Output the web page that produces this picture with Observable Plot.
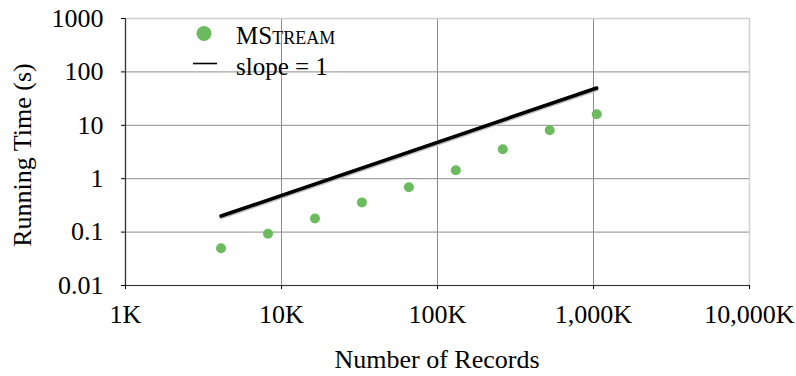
<!DOCTYPE html>
<html>
<head>
<meta charset="utf-8">
<script src="https://cdn.jsdelivr.net/npm/d3@7"></script>
<script src="https://cdn.jsdelivr.net/npm/@observablehq/plot@0.6"></script>
<style>
  html, body { margin: 0; padding: 0; background: #fff; }
  #wrap, #wrap svg, #wrap svg text, .leg, .ttl {
    font-family: 'Liberation Serif', 'Times New Roman', Times, Tinos, 'DejaVu Serif', 'Noto Serif', serif !important;
  }
  #wrap { position: relative; width: 796px; height: 376px; }
  .leg { position: absolute; font-size: 25px; color: #000; line-height: 1; white-space: nowrap; }
  .ttl { position: absolute; font-size: 26px; color: #000; line-height: 1; white-space: nowrap; }
</style>
</head>
<body>
<div id="wrap"></div>
<script>
const records = [4096, 8192, 16384, 32768, 65536, 131072, 262144, 524288, 1048576];
const runningTime = [0.05, 0.093, 0.18, 0.36, 0.69, 1.44, 3.56, 8.1, 16.1];
const slopeX = [4096, 1048576];
const slopeY = [0.2, 50];
const xTicks = [1000, 10000, 100000, 1000000, 10000000];
const xTickLabels = ["1K", "10K", "100K", "1,000K", "10,000K"];
const yTicks = [0.01, 0.1, 1, 10, 100, 1000];
const yTickLabels = ["0.01", "0.1", "1", "10", "100", "1000"];
const lineName = "slope = 1";
const xTitle = "Number of Records";
const yTitle = "Running Time (s)";

const green = "#6cbb5f";
const pts = records.map((r, i) => ({x: r, y: runningTime[i]}));
const line = slopeX.map((x, i) => ({x, y: slopeY[i]}));

const chart = Plot.plot({
  width: 796,
  height: 376,
  marginLeft: 125,
  marginRight: 47,
  marginTop: 18,
  marginBottom: 91,
  style: {fontSize: "26px", color: "#000", background: "#fff", overflow: "visible"},
  x: {type: "log", domain: [1000, 10000000]},
  y: {type: "log", domain: [0.01, 1000]},
  marks: [
    Plot.gridX(xTicks, {stroke: "#8c8c8c", strokeOpacity: 1, strokeWidth: 1}),
    Plot.gridY(yTicks, {stroke: "#8c8c8c", strokeOpacity: 1, strokeWidth: 1}),
    Plot.frame({stroke: "#cfcfcf", strokeWidth: 1.5}),
    Plot.ruleX([1000], {stroke: "#333", strokeWidth: 1.2}),
    Plot.ruleY([0.01], {stroke: "#333", strokeWidth: 1.2}),
    Plot.axisX({ticks: xTicks, tickFormat: d => xTickLabels[xTicks.indexOf(d)], tickSize: 4, tickPadding: 15, fontSize: 26, label: null}),
    Plot.axisY({ticks: yTicks, tickFormat: d => yTickLabels[yTicks.indexOf(d)], tickSize: 4, tickPadding: 18, fontSize: 26, label: null}),
    Plot.line(line, {x: "x", y: "y", stroke: "#bbb", strokeWidth: 3.5, dy: 1.5}),
    Plot.line(line, {x: "x", y: "y", stroke: "#000", strokeWidth: 3.5}),
    Plot.dot(pts, {x: "x", y: "y", r: 5, fill: green, stroke: "none"})
  ]
});

const wrap = document.getElementById("wrap");
wrap.appendChild(chart);

const over = document.createElement("div");
over.innerHTML = `
  <svg style="position:absolute;left:0;top:0" width="796" height="376">
    <circle cx="204" cy="33.5" r="7.5" fill="${green}"></circle>
    <line x1="193" x2="217" y1="63.5" y2="63.5" stroke="#000" stroke-width="1.6"></line>
  </svg>
  <div class="leg" style="left:236px;top:23px;">MS<span style="font-variant:small-caps">tream</span></div>
  <div class="leg" style="left:236px;top:54px;">${lineName}</div>
  <div class="ttl" id="xt" style="left:437px;top:347px;transform:translateX(-50%);">${xTitle}</div>
  <div class="ttl" id="yt" style="left:23px;top:155px;transform:translate(-50%,-50%) rotate(-90deg);">${yTitle}</div>`;
wrap.appendChild(over);
</script>
</body>
</html>
